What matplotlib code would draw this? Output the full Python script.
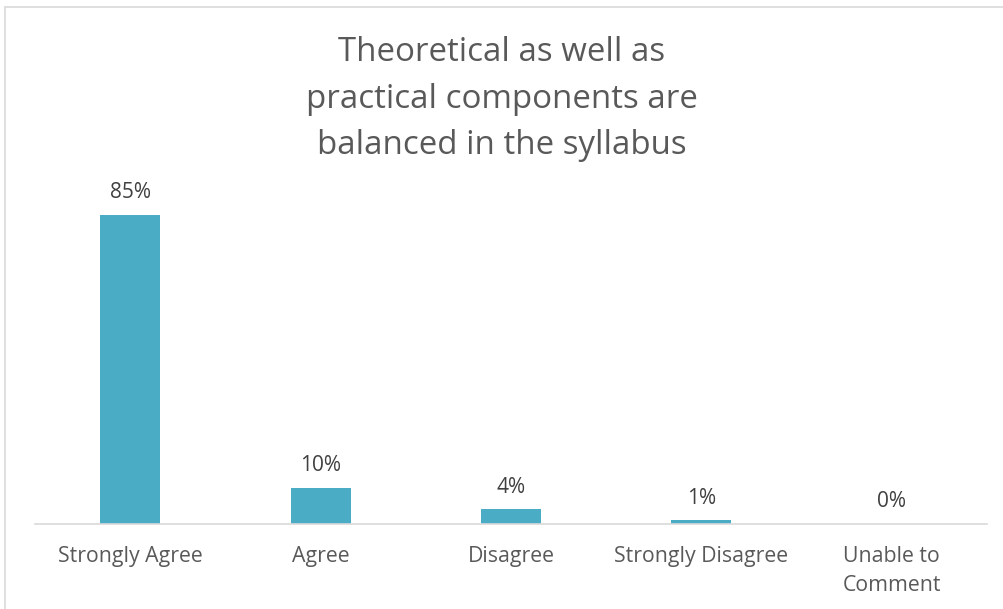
import matplotlib
matplotlib.use("Agg")
import matplotlib.pyplot as plt
from matplotlib.patches import Rectangle

categories = ["Strongly Agree", "Agree", "Disagree", "Strongly Disagree", "Unable to\nComment"]
values = [85, 10, 4, 1, 0]
labels = ["85%", "10%", "4%", "1%", "0%"]
title = "Theoretical as well as\npractical components are\nbalanced in the syllabus"

W, H = 1004, 609
fig = plt.figure(figsize=(W / 100, H / 100), dpi=100)
plt.rcParams['font.family'] = ['Open Sans', 'DejaVu Sans']

# outer border
fig.patches.append(Rectangle((5 / W, 0 - 0.01), 1.2, (H - 7) / H + 0.01,
                             transform=fig.transFigure, fill=False,
                             edgecolor="#d9d9d9", linewidth=1.2))

ax_left, ax_right = 35, 987
ax_bottom = 524
ymax = 85 * (524 - 160) / (524 - 215)
ax = fig.add_axes([ax_left / W, 1 - ax_bottom / H, (ax_right - ax_left) / W, (ax_bottom - 160) / H])
ax.set_xlim(-0.5, len(categories) - 0.5)
ax.set_ylim(0, ymax)

x = list(range(len(categories)))
bars = ax.bar(x, values, width=0.315, color="#4bacc6")
for xi, v, lab in zip(x, values, labels):
    ax.annotate(lab, (xi, v), xytext=(0, 8.5), textcoords="offset points",
                ha="center", va="bottom", fontsize=15, color="#404040")

for s in ["top", "right", "left"]:
    ax.spines[s].set_visible(False)
ax.spines["bottom"].set_color("#d9d9d9")
ax.spines["bottom"].set_linewidth(1.2)
ax.set_yticks([])
ax.set_xticks(x)
ax.set_xticklabels(categories, fontsize=15.3, color="#595959", linespacing=1.5, va="top")
ax.tick_params(axis="x", length=0, pad=16)

fig.text(0.5, 1 - 36 / H, title, ha="center", va="top", fontsize=23.8,
         color="#595959", linespacing=1.55)

fig.savefig("out.png", dpi=100)
